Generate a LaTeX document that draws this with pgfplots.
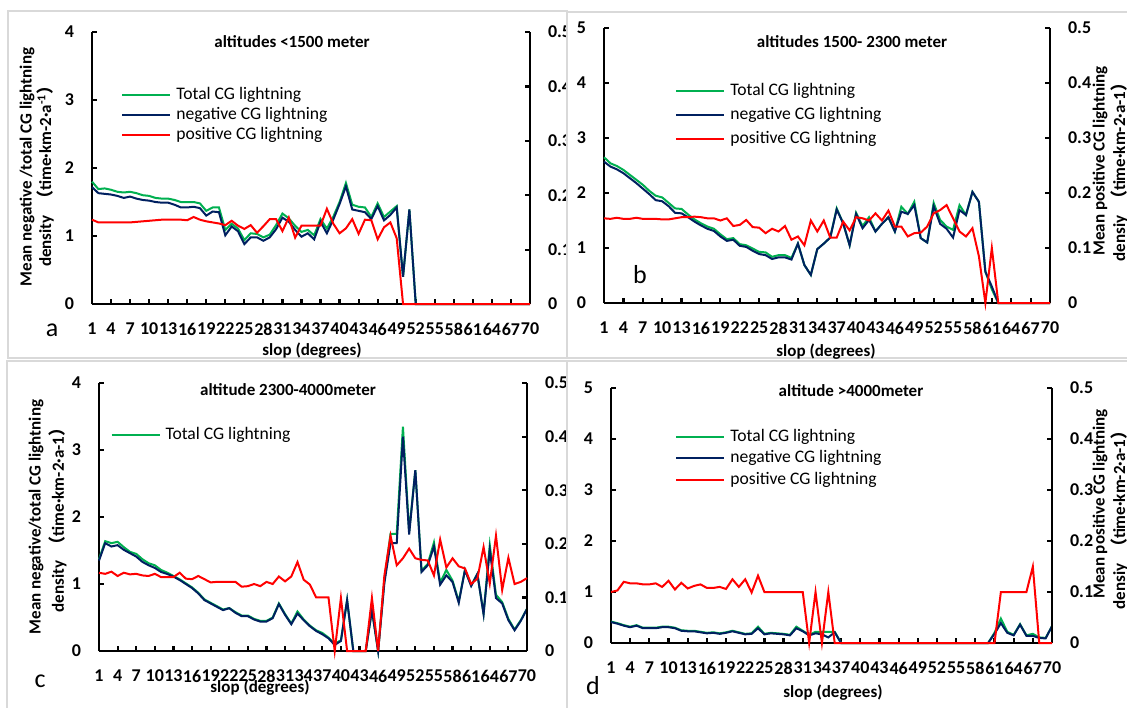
\documentclass[border=0pt]{standalone}
\usepackage{fontspec}
\setmainfont{Carlito}
\newfontfamily\cjk{Noto Sans CJK SC}
\usepackage{pgfplots}
\usepackage{pgfplotstable}
\pgfplotsset{compat=1.18}
\definecolor{cgreen}{HTML}{00B050}
\definecolor{cnavy}{HTML}{002060}
\definecolor{cred}{HTML}{FF0000}
\definecolor{cborder}{HTML}{D9D9D9}

% panel a: altitudes <1500 m ; pos on right axis
\pgfplotstableread[row sep=\\]{
x tot neg pos\\
1 1.80 1.72 0.155\\ 2 1.69 1.63 0.150\\ 3 1.70 1.62 0.150\\ 4 1.68 1.61 0.150\\ 5 1.65 1.59 0.150\\
6 1.64 1.56 0.150\\ 7 1.65 1.58 0.150\\ 8 1.63 1.55 0.151\\ 9 1.60 1.53 0.152\\ 10 1.59 1.52 0.153\\
11 1.56 1.50 0.154\\ 12 1.55 1.49 0.155\\ 13 1.55 1.49 0.155\\ 14 1.53 1.46 0.155\\ 15 1.50 1.42 0.155\\
16 1.50 1.42 0.154\\ 17 1.50 1.43 0.160\\ 18 1.48 1.41 0.155\\ 19 1.37 1.30 0.152\\ 20 1.42 1.36 0.150\\
21 1.42 1.35 0.148\\ 22 1.09 1.01 0.145\\ 23 1.18 1.14 0.153\\ 24 1.11 1.07 0.144\\ 25 0.94 0.88 0.138\\
26 1.04 0.98 0.145\\ 27 1.03 0.98 0.131\\ 28 0.98 0.93 0.143\\ 29 1.02 0.98 0.156\\ 30 1.16 1.10 0.156\\
31 1.33 1.27 0.134\\ 32 1.26 1.21 0.159\\ 33 1.15 1.09 0.122\\ 34 1.06 0.99 0.144\\ 35 1.09 1.04 0.144\\
36 1.01 0.95 0.144\\ 37 1.25 1.21 0.144\\ 38 1.11 1.04 0.175\\ 39 1.28 1.24 0.148\\ 40 1.50 1.47 0.130\\
41 1.78 1.73 0.139\\ 42 1.46 1.39 0.156\\ 43 1.43 1.37 0.129\\ 44 1.42 1.35 0.155\\ 45 1.28 1.25 0.154\\
46 1.48 1.44 0.119\\ 47 1.28 1.23 0.141\\ 48 1.36 1.31 0.150\\ 49 1.44 1.42 0.121\\ 50 0.40 0.40 0\\
51 1.39 1.39 0\\ 52 0 0 0\\ 53 0 0 0\\ 54 0 0 0\\ 55 0 0 0\\ 56 0 0 0\\ 57 0 0 0\\ 58 0 0 0\\ 59 0 0 0\\ 60 0 0 0\\
61 0 0 0\\ 62 0 0 0\\ 63 0 0 0\\ 64 0 0 0\\ 65 0 0 0\\ 66 0 0 0\\ 67 0 0 0\\ 68 0 0 0\\ 69 0 0 0\\ 70 0 0 0\\
}\dataA

% panel b: altitudes 1500-2300 m
\pgfplotstableread[row sep=\\]{
x tot neg pos\\
1 2.65 2.57 0.154\\ 2 2.54 2.48 0.153\\ 3 2.49 2.43 0.155\\ 4 2.42 2.36 0.153\\ 5 2.33 2.27 0.153\\
6 2.24 2.18 0.155\\ 7 2.15 2.08 0.153\\ 8 2.04 1.98 0.153\\ 9 1.95 1.87 0.153\\ 10 1.92 1.85 0.152\\
11 1.82 1.76 0.152\\ 12 1.72 1.64 0.154\\ 13 1.71 1.63 0.156\\ 14 1.61 1.56 0.156\\ 15 1.52 1.48 0.157\\
16 1.45 1.41 0.156\\ 17 1.39 1.35 0.154\\ 18 1.35 1.31 0.154\\ 19 1.25 1.21 0.150\\ 20 1.16 1.13 0.154\\
21 1.18 1.15 0.140\\ 22 1.07 1.04 0.142\\ 23 1.05 1.02 0.151\\ 24 0.99 0.95 0.138\\ 25 0.93 0.89 0.137\\
26 0.92 0.87 0.127\\ 27 0.84 0.80 0.135\\ 28 0.87 0.83 0.130\\ 29 0.87 0.83 0.140\\ 30 0.82 0.79 0.115\\
31 1.08 1.08 0.121\\ 32 0.69 0.69 0.105\\ 33 0.51 0.51 0.150\\ 34 0.98 0.98 0.130\\ 35 1.08 1.08 0.150\\
36 1.19 1.19 0.119\\ 37 1.72 1.70 0.119\\ 38 1.45 1.45 0.148\\ 39 1.05 1.05 0.132\\ 40 1.64 1.62 0.156\\
41 1.40 1.36 0.154\\ 42 1.56 1.51 0.150\\ 43 1.30 1.30 0.163\\ 44 1.44 1.44 0.150\\ 45 1.56 1.56 0.168\\
46 1.30 1.30 0.139\\ 47 1.75 1.66 0.139\\ 48 1.62 1.62 0.121\\ 49 1.84 1.78 0.127\\ 50 1.18 1.18 0.128\\
51 1.10 1.10 0.139\\ 52 1.82 1.76 0.163\\ 53 1.51 1.44 0.169\\ 54 1.39 1.35 0.178\\ 55 1.33 1.19 0.154\\
56 1.78 1.69 0.130\\ 57 1.60 1.60 0.121\\ 58 2.02 2.02 0.136\\ 59 1.84 1.84 0.085\\ 60 0.57 0.57 0\\
61 0.25 0.30 0.100\\ 62 0 0 0\\ 63 0 0 0\\ 64 0 0 0\\ 65 0 0 0\\ 66 0 0 0\\ 67 0 0 0\\ 68 0 0 0\\ 69 0 0 0\\ 70 0 0 0\\
}\dataB

% panel c: altitude 2300-4000 m
\pgfplotstableread[row sep=\\]{
x tot neg pos\\
1 1.37 1.35 0.146\\ 2 1.64 1.61 0.144\\ 3 1.61 1.56 0.148\\ 4 1.63 1.58 0.140\\ 5 1.55 1.51 0.146\\
6 1.48 1.46 0.143\\ 7 1.45 1.41 0.144\\ 8 1.37 1.33 0.141\\ 9 1.31 1.28 0.140\\ 10 1.28 1.24 0.144\\
11 1.21 1.18 0.138\\ 12 1.17 1.15 0.138\\ 13 1.12 1.11 0.138\\ 14 1.07 1.06 0.146\\ 15 1.01 1.00 0.135\\
16 0.95 0.94 0.134\\ 17 0.87 0.86 0.140\\ 18 0.77 0.76 0.134\\ 19 0.72 0.71 0.128\\ 20 0.67 0.66 0.129\\
21 0.62 0.61 0.129\\ 22 0.64 0.64 0.129\\ 23 0.58 0.57 0.129\\ 24 0.53 0.52 0.120\\ 25 0.53 0.52 0.121\\
26 0.48 0.47 0.125\\ 27 0.45 0.44 0.121\\ 28 0.45 0.44 0.129\\ 29 0.50 0.49 0.125\\ 30 0.71 0.70 0.139\\
31 0.55 0.54 0.130\\ 32 0.41 0.40 0.139\\ 33 0.59 0.56 0.166\\ 34 0.47 0.46 0.133\\ 35 0.38 0.37 0.124\\
36 0.31 0.30 0.100\\ 37 0.27 0.25 0.100\\ 38 0.20 0.19 0.100\\ 39 0.11 0.09 0\\ 40 0.16 0.15 0.099\\
41 0.76 0.76 0\\ 42 0 0 0\\ 43 0 0 0\\ 44 0 0 0\\ 45 0.61 0.61 0.099\\
46 0 0 0\\ 47 1.05 1.01 0.140\\ 48 1.75 1.61 0.215\\ 49 1.75 1.61 0.160\\ 50 3.35 3.20 0.173\\
51 1.78 1.74 0.191\\ 52 2.70 2.70 0.173\\ 53 1.20 1.18 0.170\\ 54 1.30 1.28 0.169\\ 55 1.62 1.56 0.141\\
56 1.02 0.99 0.208\\ 57 1.21 1.13 0.156\\ 58 1.05 1.03 0.173\\ 59 0.74 0.72 0.158\\ 60 1.21 1.21 0.154\\
61 0.98 0.97 0.125\\ 62 1.15 1.15 0.135\\ 63 0.56 0.55 0.194\\ 64 1.58 1.51 0.126\\ 65 0.84 0.79 0.215\\
66 0.73 0.71 0.114\\ 67 0.48 0.46 0.174\\ 68 0.32 0.31 0.125\\ 69 0.46 0.45 0.129\\ 70 0.63 0.63 0.136\\
}\dataC

% panel d: altitude >4000 m
\pgfplotstableread[row sep=\\]{
x tot neg pos\\
1 0.42 0.41 0.100\\ 2 0.39 0.38 0.103\\ 3 0.35 0.34 0.120\\ 4 0.32 0.31 0.117\\ 5 0.35 0.34 0.117\\
6 0.30 0.29 0.115\\ 7 0.30 0.29 0.115\\ 8 0.30 0.29 0.117\\ 9 0.32 0.31 0.110\\ 10 0.32 0.31 0.122\\
11 0.30 0.29 0.105\\ 12 0.25 0.24 0.118\\ 13 0.24 0.23 0.107\\ 14 0.24 0.23 0.112\\ 15 0.22 0.21 0.115\\
16 0.20 0.19 0.108\\ 17 0.21 0.20 0.108\\ 18 0.19 0.18 0.110\\ 19 0.21 0.20 0.106\\ 20 0.24 0.23 0.125\\
21 0.21 0.20 0.110\\ 22 0.18 0.17 0.125\\ 23 0.19 0.18 0.099\\ 24 0.32 0.29 0.132\\ 25 0.18 0.17 0.100\\
26 0.20 0.19 0.100\\ 27 0.19 0.18 0.100\\ 28 0.18 0.17 0.100\\ 29 0.16 0.15 0.100\\ 30 0.32 0.29 0.100\\
31 0.24 0.23 0.100\\ 32 0.16 0.15 0\\ 33 0.22 0.19 0.100\\ 34 0.22 0.17 0\\ 35 0.22 0.11 0.100\\
36 0.22 0.21 0\\ 37 0 0 0\\ 38 0 0 0\\ 39 0 0 0\\ 40 0 0 0\\ 41 0 0 0\\ 42 0 0 0\\ 43 0 0 0\\ 44 0 0 0\\ 45 0 0 0\\
46 0 0 0\\ 47 0 0 0\\ 48 0 0 0\\ 49 0 0 0\\ 50 0 0 0\\ 51 0 0 0\\ 52 0 0 0\\ 53 0 0 0\\ 54 0 0 0\\ 55 0 0 0\\
56 0 0 0\\ 57 0 0 0\\ 58 0 0 0\\ 59 0 0 0\\ 60 0 0 0\\
61 0.20 0.18 0\\ 62 0.48 0.39 0.100\\ 63 0.22 0.20 0.100\\ 64 0.16 0.15 0.100\\ 65 0.37 0.36 0.100\\
66 0.15 0.14 0.100\\ 67 0.18 0.14 0.150\\ 68 0.11 0.10 0\\ 69 0.10 0.09 0\\ 70 0.33 0.33 0\\
}\dataD

\newcommand{\tkfont}{\bfseries\fontsize{9}{10}\selectfont}
\pgfplotsset{
  base/.style={
    scale only axis, anchor=south west,
    xmin=1, xmax=70, clip=false,
    axis line style={line width=1.2pt, black},
    major tick style={line width=1.1pt, black},
    major tick length=2.5pt,
    tick align=inside,
    tick label style={font=\tkfont},
    /pgf/number format/assume math mode=true,
  },
  leftax/.style={base,
    axis x line*=bottom, axis y line*=left,
    xtick={1,4,...,70},
    xticklabel={\tkfont\pgfmathprintnumber{\tick}},
    yticklabel={\tkfont\pgfmathprintnumber{\tick}},
    yticklabel style={xshift=-5.5pt},
    xticklabel style={yshift=-6pt},
    legend cell align=left,
    legend image code/.code={\draw[##1] (0pt,0pt) -- (24pt,0pt);},
  },
  rightax/.style={base,
    axis x line=none, axis y line*=right,
    ymin=0, ymax=0.5, ytick={0,0.1,0.2,0.3,0.4,0.5},
    yticklabels={{\tkfont 0},{\tkfont 0.1},{\tkfont 0.2},{\tkfont 0.3},{\tkfont 0.4},{\tkfont 0.5}},
    yticklabel style={xshift=5.5pt},
  },
  lg/.style={line width=1pt, cgreen},
  ln/.style={line width=1pt, cnavy},
  lr/.style={line width=1pt, cred},
}

\newcommand{\lgfont}{\fontsize{8.8}{10}\selectfont}
\newcommand{\lbfont}{\bfseries\fontsize{8.5}{10}\selectfont}

\begin{document}
\begin{tikzpicture}
\useasboundingbox (0,0) rectangle (563.5pt,-353.5pt);

% ---------------- panel a ----------------
\begin{scope}[x=0.5pt,y=-0.5pt]
\draw[cborder, line width=1pt, fill=white] (8,11) rectangle (567,358);
\end{scope}
\begin{axis}[leftax, at={(46pt,-152pt)}, width=219pt, height=136pt,
  ymin=0, ymax=4, ytick={0,1,2,3,4},
  legend style={draw=none, fill=none, at={(0.066,0.80)}, anchor=north west,
    font=\lgfont, inner sep=0pt, row sep=1.5pt, column sep=2.5pt,
    nodes={inner sep=0pt, text height=6.5pt, text depth=2pt}}]
\addplot[lg] table[x=x,y=tot]{\dataA};
\addplot[ln] table[x=x,y=neg]{\dataA};
\addlegendimage{lr}
\legend{Total CG lightning, negative CG lightning, positive CG lightning}
\end{axis}
\begin{axis}[rightax, at={(46pt,-152pt)}, width=219pt, height=136pt]
\addplot[lr] table[x=x,y=pos]{\dataA};
\end{axis}
\begin{scope}[x=0.5pt,y=-0.5pt]
\node[font=\lbfont] at (292,42) {altitudes <1500 meter};
\node[font=\lbfont] at (312,351) {slop (degrees)};
\node[font=\fontsize{13}{14}\selectfont] at (52,330) {a};
\node[font=\lbfont, rotate=90] at (27,167) {Mean negative /total CG lightning};
\node[font=\lbfont, rotate=90] at (45,172) {density\ \ {\cjk （}time·km-2·a\textsuperscript{-1}{\cjk ）}};
\end{scope}

% ---------------- panel b ----------------
\begin{scope}[x=0.5pt,y=-0.5pt]
\draw[cborder, line width=1pt, fill=white] (567,12) rectangle (1140,358);
\end{scope}
\begin{axis}[leftax, at={(302pt,-151.5pt)}, width=223pt, height=137.5pt,
  ymin=0, ymax=5, ytick={0,1,2,3,4,5},
  legend style={draw=none, fill=none, at={(0.159,0.805)}, anchor=north west,
    font=\lgfont, inner sep=0pt, row sep=3.5pt, column sep=2.5pt,
    nodes={inner sep=0pt, text height=6.5pt, text depth=2pt}}]
\addplot[lg] table[x=x,y=tot]{\dataB};
\addplot[ln] table[x=x,y=neg]{\dataB};
\addlegendimage{lr}
\legend{Total CG lightning, negative CG lightning, positive CG lightning}
\end{axis}
\begin{axis}[rightax, at={(302pt,-151.5pt)}, width=223pt, height=137.5pt]
\addplot[lr] table[x=x,y=pos]{\dataB};
\end{axis}
\begin{scope}[x=0.5pt,y=-0.5pt]
\node[font=\lbfont] at (852,42) {altitudes 1500- 2300 meter};
\node[font=\lbfont] at (826,352) {slop (degrees)};
\node[font=\fontsize{13}{14}\selectfont] at (640,275) {b};
\node[font=\lbfont, rotate=90] at (1100,161) {Mean positive CG lightning};
\node[font=\lbfont, rotate=90] at (1119,168) {densiy\ \ {\cjk （}time·km-2·a-1{\cjk ）}};
\end{scope}

% ---------------- panel c ----------------
\begin{scope}[x=0.5pt,y=-0.5pt]
\draw[cborder, line width=1pt, fill=white] (7,361) rectangle (567,712);
\end{scope}
\begin{axis}[leftax, at={(49.5pt,-325.5pt)}, width=214pt, height=134pt,
  ymin=0, ymax=4, ytick={0,1,2,3,4},
  legend style={draw=none, fill=none, at={(0.026,0.84)}, anchor=north west,
    font=\lgfont, inner sep=0pt, row sep=1.5pt, column sep=2.5pt,
    nodes={inner sep=0pt, text height=6.5pt, text depth=2pt}}]
\addplot[lg] table[x=x,y=tot]{\dataC};
\addplot[ln] table[x=x,y=neg]{\dataC};
\legend{Total CG lightning}
\end{axis}
\begin{axis}[rightax, at={(49.5pt,-325.5pt)}, width=214pt, height=134pt]
\addplot[lr] table[x=x,y=pos]{\dataC};
\end{axis}
\begin{scope}[x=0.5pt,y=-0.5pt]
\node[font=\lbfont] at (288,390) {altitude 2300-4000meter};
\node[font=\lbfont] at (260,688) {slop (degrees)};
\node[font=\fontsize{13}{14}\selectfont] at (40,681) {c};
\node[font=\lbfont, rotate=90] at (36,517) {Mean negative/total CG lightning};
\node[font=\lbfont, rotate=90] at (58,516) {density\ \ {\cjk （}time·km-2·a-1{\cjk ）}};
\end{scope}

% ---------------- panel d ----------------
\begin{scope}[x=0.5pt,y=-0.5pt]
\draw[cborder, line width=1pt, fill=white] (567,361) rectangle (1140,712);
\end{scope}
\begin{axis}[leftax, at={(305.5pt,-321.5pt)}, width=220.5pt, height=127.5pt,
  ymin=0, ymax=5, ytick={0,1,2,3,4,5},
  legend style={draw=none, fill=none, at={(0.145,0.843)}, anchor=north west,
    font=\lgfont, inner sep=0pt, row sep=2.25pt, column sep=2.5pt,
    nodes={inner sep=0pt, text height=6.5pt, text depth=2pt}}]
\addplot[lg] table[x=x,y=tot]{\dataD};
\addplot[ln] table[x=x,y=neg]{\dataD};
\addlegendimage{lr}
\legend{Total CG lightning, negative CG lightning, positive CG lightning}
\end{axis}
\begin{axis}[rightax, at={(305.5pt,-321.5pt)}, width=220.5pt, height=127.5pt]
\addplot[lr] table[x=x,y=pos]{\dataD};
\end{axis}
\begin{scope}[x=0.5pt,y=-0.5pt]
\node[font=\lbfont] at (851,391) {altitude >4000meter};
\node[font=\lbfont] at (833,693) {slop (degrees)};
\node[font=\fontsize{13}{14}\selectfont] at (593,686) {d};
\node[font=\lbfont, rotate=90] at (1100,504) {Mean positive CG lightning};
\node[font=\lbfont, rotate=90] at (1119,516) {densiy\ \ {\cjk （}time·km-2·a-1{\cjk ）}};
\end{scope}
\end{tikzpicture}
\end{document}
